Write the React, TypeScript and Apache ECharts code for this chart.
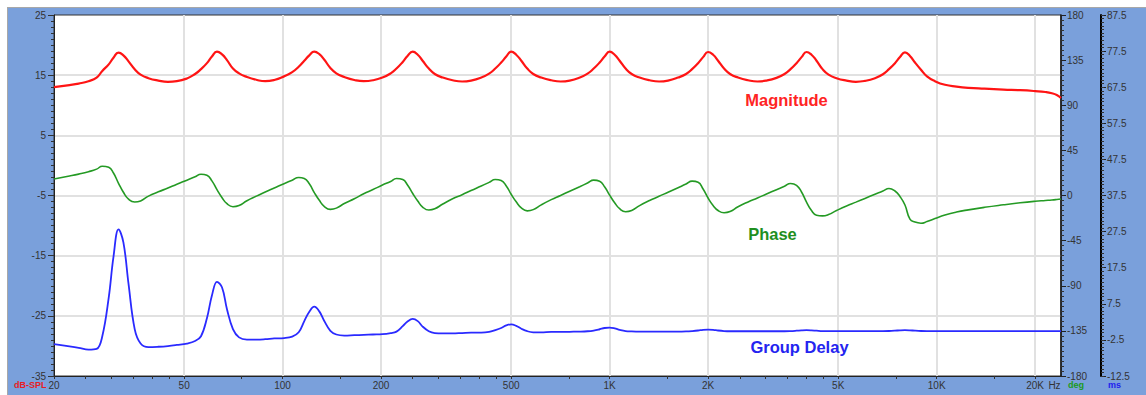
import React, { useEffect, useRef } from 'react';
import * as echarts from 'echarts';

// ---------- data ----------
const freqHz = [
  20,
  22.3, 23.8, 25.5, 27.0, 28.1, 29.4, 30.4, 31.5, 32.6, 33.8, 35.3, 36.8, 38.9, 41.7,
  44.6, 47.5, 51.0, 54.0, 56.3, 58.7, 60.8, 63, 65.3, 67.6, 70.5, 73.6, 77.8, 83.5,
  88.5, 94.3, 101, 107, 112, 116.5, 120.7, 125, 129.5, 134, 140, 146, 154.4, 165.7,
  177, 189, 202, 214, 223, 233, 241, 250, 259, 268, 280, 292, 309, 331,
  354, 377, 405, 428, 447, 466, 483, 500, 518, 537, 560, 584, 618, 663,
  708, 755, 810, 856, 894, 932, 965, 1000, 1036, 1073, 1119, 1168, 1235, 1325,
  1416, 1509, 1619, 1713, 1787, 1864, 1931, 2000, 2072, 2146, 2238, 2335, 2470, 2651,
  2832, 3018, 3238, 3426, 3574, 3728, 3862, 4000, 4143, 4292, 4477, 4671, 4941, 5302,
  5664, 6036, 6477, 6851, 7148, 7456, 7723, 8000, 8286, 8584, 8954, 9342, 9882, 10603,
  11500, 12500, 14000, 16000, 18000, 20000, 21500, 22500, 23300, 24000,
];

const magnitudeDb = [
  13.0,
  13.35, 13.6, 14.0, 14.6, 15.7, 16.8, 17.9, 18.75, 18.3, 17.3, 16.0, 15.1, 14.5, 14.1,
  13.9, 14.0, 14.45, 15.2, 16.0, 17.0, 18.1, 18.9, 18.45, 17.5, 16.1, 15.3, 14.7, 14.2,
  14.0, 14.2, 14.8, 15.5, 16.4, 17.4, 18.3, 18.9, 18.5, 17.6, 16.2, 15.3, 14.7, 14.2,
  14.0, 14.15, 14.6, 15.3, 16.1, 17.2, 18.2, 18.9, 18.4, 17.4, 16.1, 15.2, 14.6, 14.15,
  13.95, 14.1, 14.6, 15.25, 16.1, 17.1, 18.1, 18.9, 18.4, 17.4, 16.1, 15.2, 14.6, 14.15,
  13.95, 14.1, 14.6, 15.25, 16.1, 17.1, 18.1, 18.9, 18.4, 17.4, 16.1, 15.2, 14.6, 14.15,
  13.95, 14.1, 14.6, 15.2, 16.0, 17.0, 18.0, 18.85, 18.4, 17.4, 16.1, 15.2, 14.6, 14.15,
  13.95, 14.1, 14.55, 15.2, 16.0, 17.0, 18.0, 18.85, 18.4, 17.4, 16.0, 15.1, 14.5, 14.1,
  13.9, 14.05, 14.5, 15.15, 16.0, 17.0, 18.0, 18.8, 18.2, 17.1, 15.9, 14.8, 14.0, 13.4,
  13.1, 12.9, 12.75, 12.6, 12.5, 12.35, 12.2, 12.0, 11.7, 11.2,
];

const phaseDeg = [
  16.5,
  19.4, 21.3, 23.7, 26.3, 29.2, 28.1, 22.4, 12.2, 3.2, -3.6, -6.5, -5.4, -0.6, 3.7,
  7.4, 11.2, 15.3, 18.6, 21.2, 20.1, 14.6, 5.8, -2.2, -8.2, -11.2, -10.0, -5.2, -0.4,
  3.5, 7.5, 11.8, 15.2, 18.0, 16.9, 11.7, 2.9, -4.8, -10.8, -13.8, -12.6, -8.0, -3.2,
  1.7, 5.9, 10.4, 14.0, 17.0, 15.9, 10.5, 2.0, -5.5, -11.5, -14.5, -13.3, -8.5, -3.3,
  0.85, 5.0, 9.5, 13.1, 16.0, 14.9, 9.5, 1.2, -6.3, -12.3, -15.3, -14.1, -9.3, -4.1,
  0.1, 4.3, 8.8, 12.4, 15.3, 14.2, 8.8, 0.4, -7.2, -13.2, -16.2, -15.0, -10.1, -5.0,
  -0.85, 3.3, 7.8, 11.4, 14.3, 13.2, 6.5, -2.5, -10.0, -15.0, -17.2, -16.0, -11.2, -6.4,
  -2.5, 1.5, 5.8, 9.2, 12.0, 10.2, 3.5, -6.5, -15.0, -19.6, -20.3, -19.0, -15.0, -10.4,
  -6.6, -2.9, 1.2, 4.4, 7.0, 4.5, -1.0, -9.5, -23.5, -26.5, -27.6, -26.0, -23.0, -19.5,
  -16.5, -14.3, -11.8, -9.3, -7.3, -5.8, -5.0, -4.5, -4.0, -3.5,
];

const groupDelayMs = [
  -3.7,
  -4.3, -4.7, -5.2, -5.0, -1.5, 9.2, 20.5, 28.1, 24.5, 13.0, 0.5, -3.5, -4.5, -4.4,
  -4.2, -3.9, -3.5, -2.8, -1.5, 3.5, 9.8, 13.6, 12.0, 6.0, 0.5, -1.8, -2.4, -2.4,
  -2.3, -2.1, -2.0, -1.6, -0.4, 2.7, 5.3, 6.7, 5.4, 2.8, 0.0, -1.0, -1.3, -1.2,
  -1.1, -1.0, -0.9, -0.6, -0.2, 1.3, 2.6, 3.3, 2.7, 1.2, -0.1, -0.6, -0.7, -0.7,
  -0.6, -0.5, -0.5, -0.3, 0.2, 0.8, 1.5, 1.8, 1.4, 0.6, -0.1, -0.4, -0.4, -0.3,
  -0.3, -0.25, -0.2, -0.1, 0.1, 0.45, 0.8, 0.9, 0.7, 0.3, -0.05, -0.15, -0.2, -0.2,
  -0.2, -0.2, -0.2, -0.15, -0.05, 0.1, 0.3, 0.35, 0.3, 0.1, -0.05, -0.1, -0.1, -0.1,
  -0.1, -0.1, -0.1, -0.1, -0.05, 0.05, 0.15, 0.2, 0.15, 0.05, -0.05, -0.05, -0.05, -0.05,
  -0.05, -0.05, -0.05, -0.05, -0.03, 0.05, 0.15, 0.2, 0.15, 0.05, -0.03, -0.05, -0.05, -0.05,
  -0.05, -0.05, -0.05, -0.05, -0.05, -0.05, -0.05, -0.05, -0.05, -0.05,
];

// ---------- axis ticks / labels ----------
const FREQ_MIN = 20;
const FREQ_MAX = 24000;
const freqLabelHz = [20, 50, 100, 200, 500, 1000, 2000, 5000, 10000, 20000];
const freqLabelText = ['20', '50', '100', '200', '500', '1K', '2K', '5K', '10K', '20K'];
const freqGridHz = [50, 100, 200, 500, 1000, 2000, 5000, 10000, 20000];
const freqMinorTickHz = [25, 30, 35, 40, 45, 75, 150, 250, 300, 350, 400, 450, 750, 1500, 2500, 3000, 3500, 4000, 4500, 7500, 15000];

const DB_MIN = -35;
const DB_MAX = 25;
const dbLabels = [-35, -25, -15, -5, 5, 15, 25];
const dbGrid = [-25, -15, -5, 5, 15];

const DEG_MIN = -180;
const DEG_MAX = 180;
const DEG_STEP = 45;

const MS_MIN = -12.5;
const MS_MAX = 87.5;
const msLabels = [-12.5, -2.5, 7.5, 17.5, 27.5, 37.5, 47.5, 57.5, 67.5, 77.5, 87.5];

const lg = (f: number) => Math.log10(f);

function steps(from: number, to: number, step: number) {
  const out: number[] = [];
  for (let v = from; v <= to + 1e-9; v += step) out.push(Math.round(v * 100) / 100);
  return out;
}

const FONT = '"Liberation Sans", Arial, sans-serif';
const labelStyle = { color: '#333', fontSize: 10, fontFamily: FONT };
const gridLine = { color: '#e1e1e1', width: 2 };

export default function App() {
  const ref = useRef<HTMLDivElement>(null);

  useEffect(() => {
    if (!ref.current) return;
    const chart = echarts.init(ref.current, undefined, { renderer: 'svg' });

    const toPairs = (vals: number[]) => freqHz.map((f, i) => [lg(f), vals[i]]);
    const dbMinor = steps(DB_MIN, DB_MAX, 1);
    const msMinor = steps(MS_MIN, MS_MAX, 1);

    const option: any = {
      animation: false,
      backgroundColor: '#7aa0db',
      grid: {
        left: 46, top: 7, right: 85, bottom: 19,
        show: true, backgroundColor: '#ffffff', borderColor: '#333', borderWidth: 1,
      },
      xAxis: [
        {
          type: 'value', position: 'bottom', min: lg(FREQ_MIN), max: lg(FREQ_MAX),
          axisLine: { show: true, onZero: false, lineStyle: { color: '#222', width: 1 } },
          axisTick: {
            show: true, length: 3, lineStyle: { color: '#333' },
            customValues: [...freqLabelHz, ...freqMinorTickHz].map(lg),
          },
          axisLabel: {
            show: true, margin: 4, ...labelStyle,
            customValues: freqLabelHz.map(lg),
            formatter: (v: number) => {
              let best = 0;
              for (let i = 1; i < freqLabelHz.length; i++) {
                if (Math.abs(lg(freqLabelHz[i]) - v) < Math.abs(lg(freqLabelHz[best]) - v)) best = i;
              }
              return freqLabelText[best];
            },
          },
          splitLine: { show: false },
        },
        {
          type: 'value', position: 'bottom', min: lg(FREQ_MIN), max: lg(FREQ_MAX),
          axisLine: { show: false, onZero: false },
          axisTick: { show: false, customValues: freqGridHz.map(lg) },
          axisLabel: { show: false },
          splitLine: { show: true, lineStyle: gridLine, customValues: freqGridHz.map(lg) },
        },
      ],
      yAxis: [
        {
          type: 'value', position: 'left', min: DB_MIN, max: DB_MAX,
          axisLine: { show: true, onZero: false, lineStyle: { color: '#222', width: 1 } },
          axisTick: { show: true, length: 6, customValues: dbLabels, lineStyle: { color: '#333' } },
          axisLabel: { show: true, margin: 8, customValues: dbLabels, ...labelStyle },
          splitLine: { show: false },
        },
        {
          type: 'value', position: 'left', min: DB_MIN, max: DB_MAX,
          axisLine: { show: false, onZero: false },
          axisTick: { show: true, length: 3, customValues: dbMinor, lineStyle: { color: '#333' } },
          axisLabel: { show: false },
          splitLine: { show: false },
        },
        {
          type: 'value', position: 'right', offset: 0, min: DEG_MIN, max: DEG_MAX, interval: DEG_STEP,
          axisLine: { show: true, onZero: false, lineStyle: { color: '#111', width: 1.5 } },
          axisTick: { show: true, length: 5, lineStyle: { color: '#222' } },
          minorTick: { show: true, splitNumber: 9, length: 3, lineStyle: { color: '#333' } },
          axisLabel: { show: true, margin: 6, ...labelStyle },
          splitLine: { show: false },
        },
        {
          type: 'value', position: 'right', offset: 40, min: MS_MIN, max: MS_MAX,
          axisLine: { show: true, onZero: false, lineStyle: { color: '#000', width: 2 } },
          axisTick: { show: true, length: 5, customValues: msLabels, lineStyle: { color: '#222' } },
          axisLabel: { show: true, margin: 6, customValues: msLabels, ...labelStyle },
          splitLine: { show: false },
        },
        {
          type: 'value', position: 'right', offset: 40, min: MS_MIN, max: MS_MAX,
          axisLine: { show: false, onZero: false },
          axisTick: { show: true, length: 3, customValues: msMinor, lineStyle: { color: '#333' } },
          axisLabel: { show: false },
          splitLine: { show: false },
        },
        {
          type: 'value', position: 'left', min: DB_MIN, max: DB_MAX,
          axisLine: { show: false, onZero: false },
          axisTick: { show: false, customValues: dbGrid },
          axisLabel: { show: false },
          splitLine: { show: true, lineStyle: gridLine, customValues: dbGrid },
        },
      ],
      series: [
        {
          name: 'Magnitude', type: 'line', xAxisIndex: 0, yAxisIndex: 0,
          data: toPairs(magnitudeDb), symbol: 'none', smooth: 0.5,
          lineStyle: { color: '#ff1414', width: 2.2 }, z: 5,
        },
        {
          name: 'Phase', type: 'line', xAxisIndex: 0, yAxisIndex: 2,
          data: toPairs(phaseDeg), symbol: 'none', smooth: 0.5,
          lineStyle: { color: '#249a24', width: 1.6 }, z: 4,
        },
        {
          name: 'Group Delay', type: 'line', xAxisIndex: 0, yAxisIndex: 3,
          data: toPairs(groupDelayMs), symbol: 'none', smooth: 0.4,
          lineStyle: { color: '#2a2aff', width: 1.8 }, z: 3,
        },
      ],
      graphic: [
        { type: 'text', x: 778.5, y: 92, z: 100, style: { text: 'Magnitude', fill: '#ff2424', font: `bold 16.5px ${FONT}`, textAlign: 'center', textVerticalAlign: 'middle' } },
        { type: 'text', x: 764.5, y: 226, z: 100, style: { text: 'Phase', fill: '#1f8f1f', font: `bold 16.5px ${FONT}`, textAlign: 'center', textVerticalAlign: 'middle' } },
        { type: 'text', x: 791.5, y: 339, z: 100, style: { text: 'Group Delay', fill: '#2424f0', font: `bold 16.5px ${FONT}`, textAlign: 'center', textVerticalAlign: 'middle' } },
        { type: 'text', x: 6, y: 377, z: 100, style: { text: 'dB-SPL', fill: '#e81c24', font: `bold 9px ${FONT}`, textAlign: 'left', textVerticalAlign: 'middle' } },
        { type: 'text', x: 1046.5, y: 377, z: 100, style: { text: 'Hz', fill: '#333', font: `10px ${FONT}`, textAlign: 'center', textVerticalAlign: 'middle' } },
        { type: 'text', x: 1060, y: 377, z: 100, style: { text: 'deg', fill: '#1c9a1c', font: `bold 9px ${FONT}`, textAlign: 'left', textVerticalAlign: 'middle' } },
        { type: 'text', x: 1100, y: 377, z: 100, style: { text: 'ms', fill: '#2020ee', font: `bold 9px ${FONT}`, textAlign: 'left', textVerticalAlign: 'middle' } },
      ],
    };

    chart.setOption(option);
    return () => chart.dispose();
  }, []);

  return (
    <div style={{ position: 'fixed', left: 0, top: 0, width: 1146, height: 395, background: '#fff', overflow: 'hidden' }}>
      <div style={{ position: 'absolute', left: 7, top: 7, width: 1139, height: 388, background: '#a8a8a8' }}>
        <div ref={ref} style={{ position: 'absolute', left: 1, top: 1, width: 1138, height: 387 }} />
      </div>
    </div>
  );
}
